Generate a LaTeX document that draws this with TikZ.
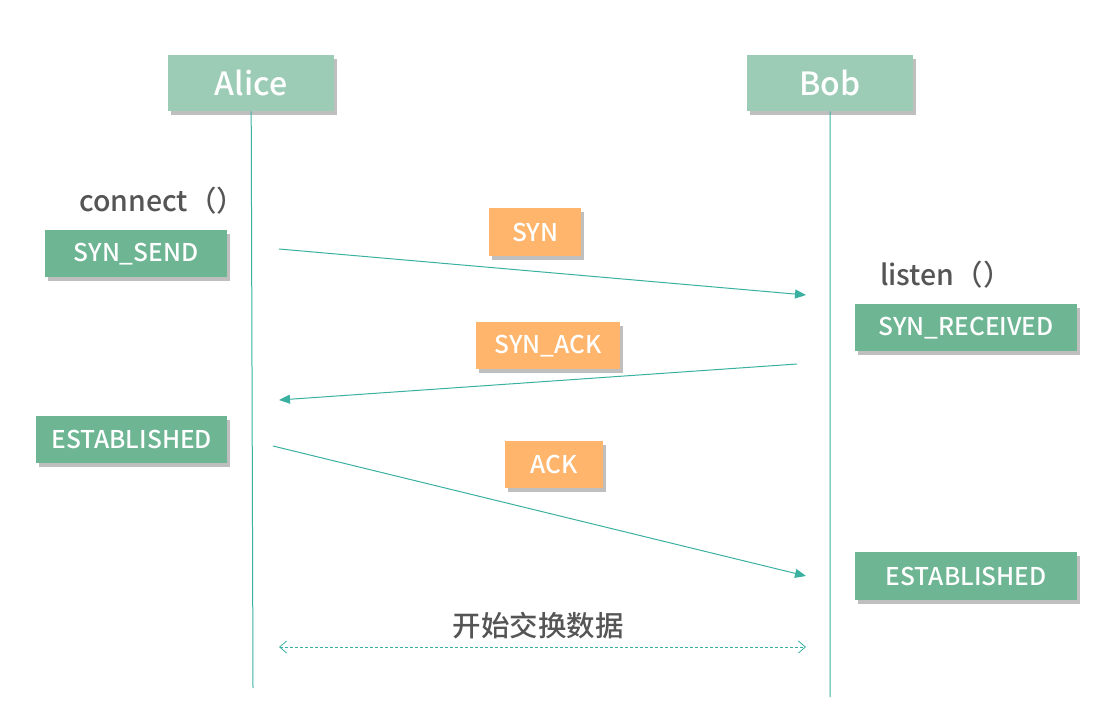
\documentclass[tikz,border=0pt]{standalone}
\usepackage{fontspec}
\setmainfont{Noto Sans CJK SC}
\newfontfamily\medfont{Noto Sans CJK SC Medium}
\usetikzlibrary{arrows.meta,shadows}
\definecolor{headc}{HTML}{9DCCB6}
\definecolor{statec}{HTML}{6DB593}
\definecolor{msgc}{HTML}{FFB56B}
\definecolor{linec}{HTML}{3AB0A0}
\definecolor{txtc}{HTML}{555555}
\tikzset{
  box/.style={draw=none, inner sep=0pt, text=white, anchor=north west,
    drop shadow={shadow xshift=3pt, shadow yshift=-4pt, fill=black, opacity=0.25}},
  headbox/.style={box, fill=headc, font=\medfont\fontsize{32}{34}\selectfont},
  statebox/.style={box, fill=statec, font=\medfont\fontsize{24.5}{26}\selectfont},
  msgbox/.style={box, fill=msgc, font=\medfont\fontsize{24.5}{26}\selectfont},
  calltxt/.style={text=txtc, font=\medfont\fontsize{28.5}{30}\selectfont, inner sep=0pt},
  life/.style={draw=linec, line width=1pt},
  msg/.style={draw=linec, line width=1pt, -{Triangle[length=11pt,width=9pt]}},
  xchg/.style={draw=linec, line width=0.8pt, dashed, dash pattern=on 3pt off 2pt,
    {Straight Barb[length=7pt,width=12pt]}-{Straight Barb[length=7pt,width=12pt]}}
}
\begin{document}
\begin{tikzpicture}[x=1pt,y=-1pt]
\useasboundingbox (0,0) rectangle (1115,719);
% headers
\node[headbox, minimum width=166pt, minimum height=56pt] (alice) at (168,55) {Alice};
\node[headbox, minimum width=166pt, minimum height=56pt] (bob) at (747,55) {Bob};
% lifelines
\coordinate (aend) at (253,688);
\coordinate (bend) at (830,697);
\draw[life] (alice.south) -- (aend);
\draw[life] (bob.south) -- (bend);
% calls
\node[calltxt, anchor=west] (conn) at (79,201) {connect（）};
\node[calltxt, anchor=west] (lis) at (880,275) {listen（）};
% states
\node[statebox, minimum width=182pt, minimum height=47pt] (ss) at (45,230) {SYN\_SEND};
\node[statebox, minimum width=222pt, minimum height=47pt] (sr) at (855,304) {SYN\_RECEIVED};
\node[statebox, minimum width=191pt, minimum height=47pt] (ea) at (36,416) {ESTABLISHED};
\node[statebox, minimum width=222pt, minimum height=48pt] (eb) at (855,552) {ESTABLISHED};
% messages
\node[msgbox, minimum width=92pt, minimum height=48pt] (syn) at (489,208) {SYN};
\node[msgbox, minimum width=144pt, minimum height=47pt] (synack) at (476,322) {SYN\_ACK};
\node[msgbox, minimum width=98pt, minimum height=47pt] (ack) at (505,441) {ACK};
% arrows
\coordinate (m1s) at (279,249);
\coordinate (m1e) at (806,295);
\coordinate (m2s) at (797,364);
\coordinate (m2e) at (279,400);
\coordinate (m3s) at (273,446);
\coordinate (m3e) at (806,576);
\draw[msg] (m1s) -- (m1e);
\draw[msg] (m2s) -- (m2e);
\draw[msg] (m3s) -- (m3e);
% data exchange
\node[calltxt] (data) at (538,626) {开始交换数据};
\coordinate (ds) at (279,647);
\coordinate (de) at (806,647);
\draw[xchg] (ds) -- (de);
\end{tikzpicture}
\end{document}
